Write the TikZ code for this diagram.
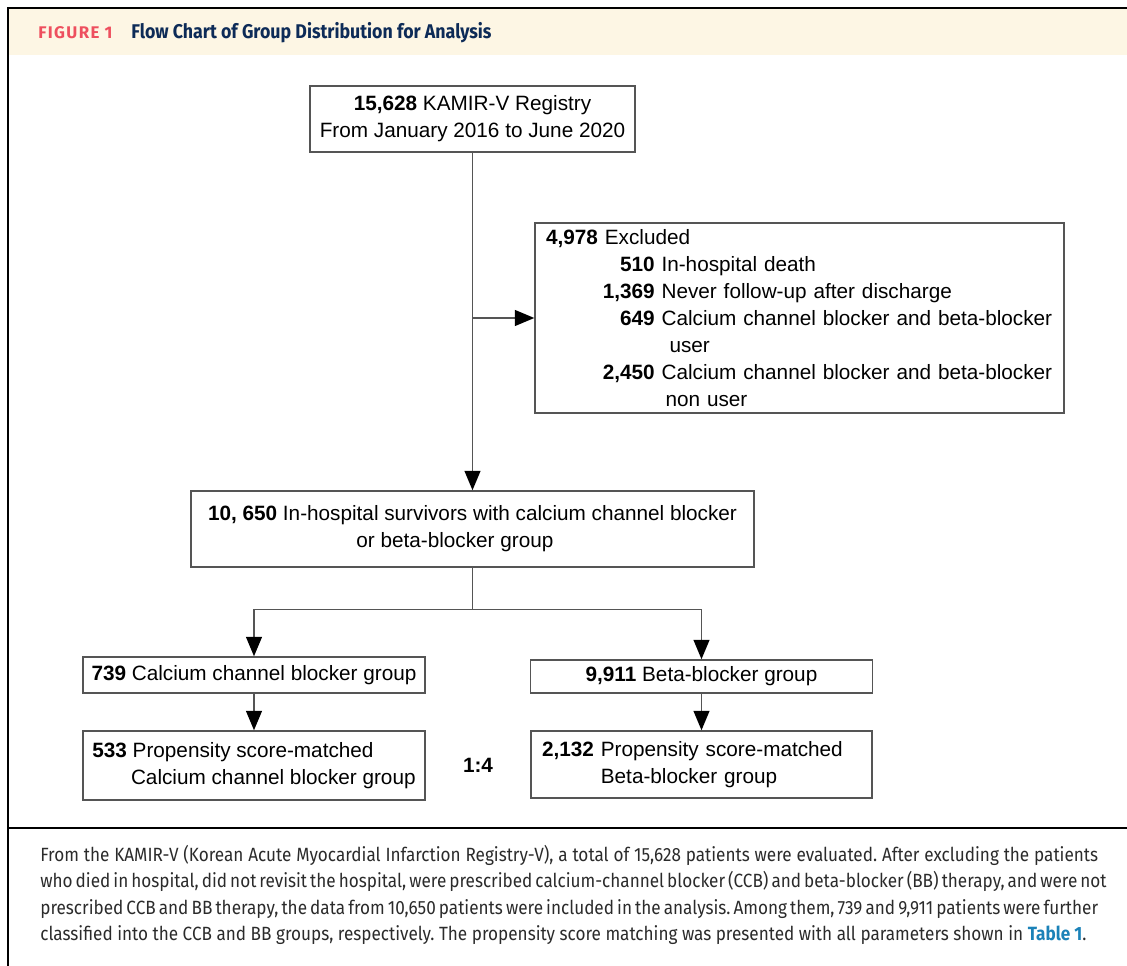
\documentclass[tikz,border=0pt]{standalone}
\usepackage{fontspec}
\setmainfont{Liberation Sans}
\newfontfamily\capfont[FakeStretch=0.895]{Fira Sans}
\newfontfamily\figfont[LetterSpace=8]{Fira Sans}
\usetikzlibrary{positioning, arrows.meta, calc}
\definecolor{headbg}{HTML}{FDF6E4}
\definecolor{figred}{HTML}{EE4F5E}
\definecolor{titlenavy}{HTML}{0D2B57}
\definecolor{linkblue}{HTML}{1B82B8}
\definecolor{boxgray}{HTML}{555555}
\definecolor{captext}{HTML}{2B2B2B}

\newcommand{\exitem}[2]{\makebox[61.8pt][r]{\textbf{#1}} #2}
\newcommand{\capline}[1]{\hbox to 21.16cm{#1}}

\tikzset{
	box/.style={rectangle, draw=boxgray, line width=0.85pt, inner sep=0pt,
		font=\fontsize{11.8}{15.3}\selectfont},
	link/.style={draw=boxgray, line width=0.85pt, -{Triangle[length=11pt, width=9pt, color=black]}},
	plain/.style={draw=boxgray, line width=0.85pt},
}

\begin{document}
\begin{tikzpicture}[x=0.02cm, y=-0.02cm]
		\useasboundingbox (0,0) rectangle (1127,966);
		
		%Frame and header
		\fill [headbg] (9,9) rectangle (1127,55);
		\draw [line width=1.1pt] (1127,8) -- (8,8) -- (8,966);
		\draw [line width=1.1pt] (8,828) -- (1127,828);
		\node [anchor=west, inner sep=0pt, text=figred, font=\figfont\bfseries\fontsize{9.6}{11}\selectfont] 
		(figlabel) at (38,33) {FIGURE 1};
		\node [anchor=west, inner sep=0pt, text=titlenavy, font=\capfont\bfseries\fontsize{11.3}{13}\selectfont] 
		(figtitle) at (131,33) {Flow Chart of Group Distribution for Analysis};
		
		%System nodes
		\node [box, minimum width=6.5cm, minimum height=1.32cm, align=center] 
		(registry) at (472.5,119) {\textbf{15,628} KAMIR-V Registry\\From January 2016 to June 2020};
		
		\node [box, minimum width=10.58cm, minimum height=3.8cm, text width=10.14cm, align=left] 
		(excluded) at (799.5,318) {\textbf{4,978} Excluded\\
			\exitem{510}{In-hospital death}\\
			\exitem{1,369}{Never follow-up after discharge}\\
			\exitem{649}{Calcium channel blocker and beta-blocker}\\
			\hspace*{70.3pt}user\\
			\exitem{2,450}{Calcium channel blocker and beta-blocker}\\
			\hspace*{68pt}non user};
		
		\node [box, minimum width=11.26cm, minimum height=1.52cm, align=center] 
		(survivors) at (472.5,529) {\textbf{10, 650} In-hospital survivors with calcium channel blocker\\
			or beta-blocker group\hspace*{20pt}};
		
		\node [box, minimum width=6.84cm, minimum height=0.72cm] 
		(ccb) at (254,675) {\textbf{739} Calcium channel blocker group};
		
		\node [box, minimum width=6.84cm, minimum height=0.66cm] 
		(bb) at (701.5,676.5) {\textbf{9,911} Beta-blocker group};
		
		\node [box, minimum width=6.84cm, minimum height=1.38cm, align=left] 
		(psccb) at (254,765.5) {\textbf{533} Propensity score-matched\\
			\hspace*{22pt}Calcium channel blocker group};
		
		\node [box, minimum width=6.82cm, minimum height=1.34cm, text width=6.38cm, align=left] 
		(psbb) at (701.5,764.5) {\textbf{2,132} Propensity score-matched\\
			\hspace*{33.5pt}Beta-blocker group};
		
		\node [font=\fontsize{11.8}{13}\selectfont\bfseries] (ratio) at (478,765) {1:4};
		
		%Links
		\path [link] (registry) -- (survivors);
		\path [link] (registry.south |- excluded.west) -- (excluded.west);
		\coordinate (split) at ($(survivors.south)+(0,42)$);
		\path [plain] (survivors) -- (split);
		\path [link] (split) -| (ccb);
		\path [link] (split) -| (bb);
		\path [link] (ccb) -- (psccb);
		\path [link] (bb) -- (psbb);
		
		%Caption
		\node [anchor=north west, inner sep=0pt, align=left, text=captext, 
		font=\capfont\frenchspacing\fontsize{10.9}{15}\selectfont] (caption) at (40,845) {%
			\capline{From the KAMIR-V (Korean Acute Myocardial Infarction Registry-V), a total of 15,628 patients were evaluated. After excluding the patients}\\
			\capline{who died in hospital, did not revisit the hospital, were prescribed calcium-channel blocker (CCB) and beta-blocker (BB) therapy, and were not}\\
			\capline{prescribed CCB and BB therapy, the data from 10,650 patients were included in the analysis. Among them, 739 and 9,911 patients were further}\\
			classified into the CCB and BB groups, respectively. The propensity score matching was presented with all parameters shown in {\color{linkblue}\bfseries Table 1}.};
		
\end{tikzpicture}
\end{document}
